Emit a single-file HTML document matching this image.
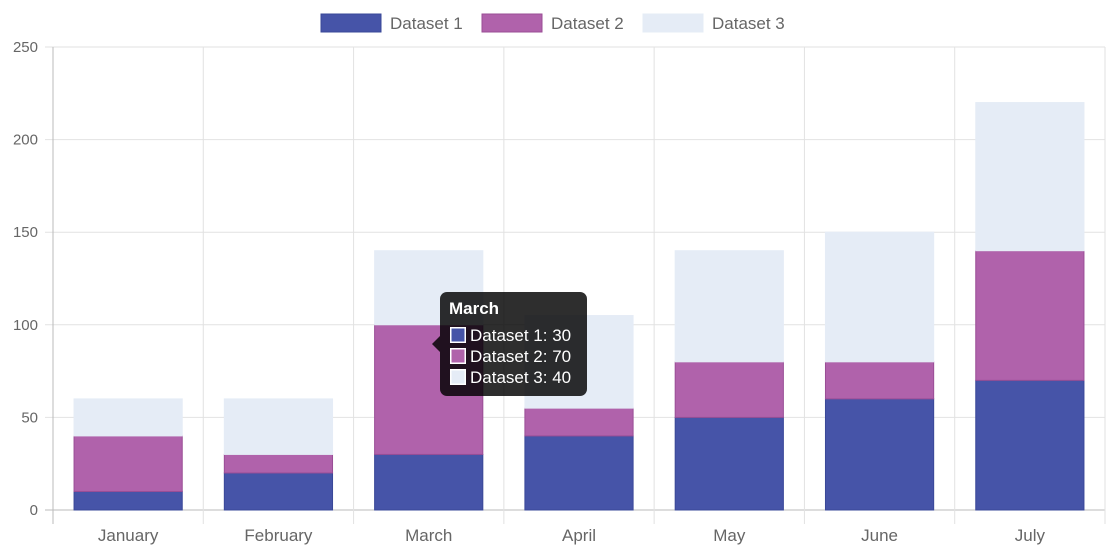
<!DOCTYPE html>
<html><head><meta charset="utf-8">
<style>
html,body{margin:0;padding:0;background:#fff;}
svg{display:block;font-family:"Liberation Sans",Arial,sans-serif;}
</style></head>
<body>
<svg id="chart" width="1110" height="555" xmlns="http://www.w3.org/2000/svg">
<g id="grid"></g>
<g id="bars"></g>
<g id="axes"></g>
<g id="legend"></g>
<g id="tooltip"></g>
</svg>
<script>
const categories = ["January","February","March","April","May","June","July"];
const dataset1 = [10,20,30,40,50,60,70];
const dataset2 = [30,10,70,15,30,20,70];
const dataset3 = [20,30,40,50,60,70,80];
const seriesNames = ["Dataset 1","Dataset 2","Dataset 3"];
const yTicks = [0,50,100,150,200,250];

const NS="http://www.w3.org/2000/svg";
const L=53,R=1105,T=47,B=510,YMAX=250;
const fills=["#4654a8","#b062ab","#e5ecf6"];
const strokes=["#3a4898","#9a4e96","#e5ecf6"];
const series=[dataset1,dataset2,dataset3];
const cw=(R-L)/categories.length;
function x(i){return L+cw*i;}
function y(v){return B-(v/YMAX)*(B-T);}
function mk(tag,attrs,parent){const e=document.createElementNS(NS,tag);for(const k in attrs)e.setAttribute(k,attrs[k]);parent.appendChild(e);return e;}
const grid=document.getElementById('grid'),bars=document.getElementById('bars'),axes=document.getElementById('axes'),legend=document.getElementById('legend'),tip=document.getElementById('tooltip');

yTicks.forEach(t=>{
  const g=mk('line',{x1:45,x2:R,y1:y(t),y2:y(t),stroke:t===0?'#bbb':'#e2e2e2','stroke-width':1},grid);
  
  
  const lb=mk('text',{x:38,y:y(t)+5,'text-anchor':'end','font-size':15,fill:'#666'},axes);
  lb.textContent=t;
  
  
});
for(let i=0;i<=categories.length;i++){
  const g=mk('line',{x1:x(i),x2:x(i),y1:T,y2:524,stroke:i===0?'#bbb':'#e2e2e2','stroke-width':1},grid);
  
  
}
categories.forEach((c,i)=>{
  const lb=mk('text',{x:x(i)+cw/2,y:541,'text-anchor':'middle','font-size':17,fill:'#666'},axes);
  lb.textContent=c;
  
  
  let acc=0;
  const bw=cw*0.72,bx=x(i)+(cw-bw)/2;
  series.forEach((s,k)=>{
    const v=s[i];
    const r=mk('rect',{x:bx,y:y(acc+v),width:bw,height:y(acc)-y(acc+v),fill:fills[k],stroke:strokes[k],'stroke-width':1},bars);
    
    
    acc+=v;
  });
});
// legend
const lx=[321,482,643];
seriesNames.forEach((n,k)=>{
  const g=mk('g',{},legend);
  
  
  mk('rect',{x:lx[k],y:14,width:60,height:18,fill:fills[k],stroke:strokes[k]},g);
  const t=mk('text',{x:lx[k]+69,y:29,'font-size':17,fill:'#666'},g);
  t.textContent=n;
});
// tooltip for March
const ti=2;
let tx=440,ty=292;
mk('rect',{x:tx,y:ty,width:147,height:104,rx:7,fill:'rgba(0,0,0,0.82)'},tip);
mk('path',{d:`M${tx} ${ty+44} L${tx-8} ${ty+52} L${tx} ${ty+60} Z`,fill:'rgba(0,0,0,0.82)'},tip);
const tt=mk('text',{x:tx+9,y:ty+22,'font-size':17,'font-weight':'bold',fill:'#fff'},tip);
tt.textContent=categories[ti];


series.forEach((s,k)=>{
  const yy=ty+35+k*21;
  mk('rect',{x:tx+10,y:yy,width:16,height:16,fill:'#fff'},tip);
  mk('rect',{x:tx+11.5,y:yy+1.5,width:13,height:13,fill:fills[k]},tip);
  const t=mk('text',{x:tx+30,y:yy+14,'font-size':17,fill:'#fff'},tip);
  t.textContent=seriesNames[k]+': '+s[ti];
  
  
});
</script>
</body></html>
